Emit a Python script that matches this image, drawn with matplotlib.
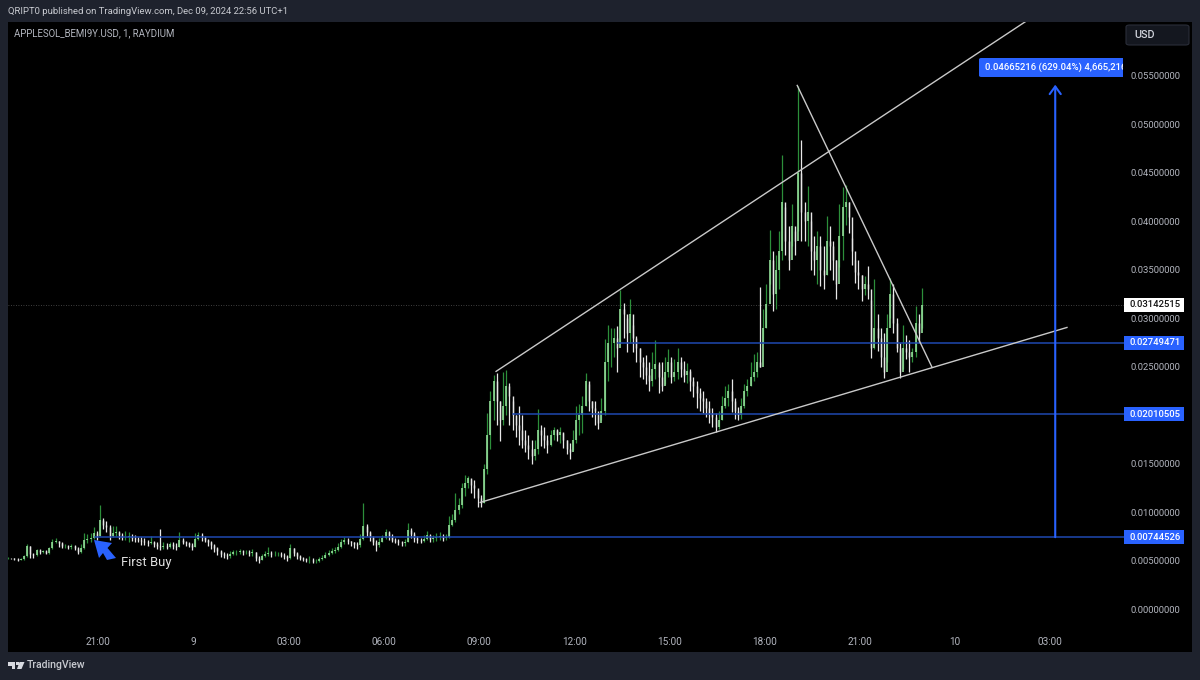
import numpy as np
import matplotlib
matplotlib.use('Agg')
import matplotlib.pyplot as plt
from matplotlib.patches import FancyBboxPatch, Polygon, Rectangle

# prices are in thousandths of a USD, one bar every 6 minutes
closes = [
    5.3, 5.25, 5.2, 5.1, 5.2, 5.5, 6.5, 5.7, 5.6, 6.1,
    5.9, 6.0, 5.8, 6.3, 7.0, 7.1, 6.8, 6.5, 6.5, 6.4,
    6.5, 6.3, 5.9, 6.3, 7.2, 7.3, 7.4, 7.9, 7.6, 9.2,
    8.7, 8.5, 7.6, 7.9, 8.0, 7.7, 7.5, 7.5, 7.6, 7.4,
    7.3, 7.2, 7.1, 6.9, 6.8, 7.0, 6.7, 6.5, 6.4, 6.5,
    6.4, 6.7, 6.5, 6.4, 7.2, 7.0, 6.8, 6.6, 6.4, 7.3,
    7.7, 7.5, 7.2, 7.0, 6.6, 6.3, 6.0, 5.7, 5.6, 5.5,
    5.7, 5.9, 5.9, 6.0, 5.9, 5.9, 5.8, 5.9, 5.3, 5.1,
    5.5, 5.7, 5.8, 5.7, 5.7, 5.7, 5.6, 5.5, 5.3, 6.3,
    5.8, 5.5, 5.3, 5.2, 5.1, 5.1, 5.0, 5.0, 5.2, 5.3,
    5.6, 5.8, 6.0, 6.1, 6.4, 6.9, 7.2, 7.1, 6.9, 6.7,
    6.6, 7.3, 8.6, 8.0, 7.5, 7.0, 6.6, 6.9, 7.4, 8.0,
    7.6, 7.2, 7.1, 6.9, 6.8, 7.0, 8.2, 7.8, 7.4, 7.2,
    7.1, 7.3, 7.7, 7.3, 7.4, 7.5, 7.6, 7.4, 7.5, 8.7,
    9.2, 10.2, 10.8, 12.5, 13.0, 13.6, 12.8, 12.5, 11.5, 11.0,
    14.5, 18.0, 21.5, 23.5, 21.5, 19.5, 21.0, 23.0, 22.0, 20.0,
    19.0, 18.5, 17.5, 17.0, 16.5, 15.8, 16.5, 18.5, 18.0, 17.5,
    17.0, 18.0, 18.5, 18.0, 18.3, 17.5, 16.5, 16.2, 17.5, 19.5,
    20.0, 21.0, 23.5, 21.5, 20.8, 20.5, 19.2, 20.5, 25.5, 27.5,
    27.5, 28.0, 27.0, 31.0, 30.5, 28.5, 30.5, 28.0, 27.0, 25.5,
    25.0, 24.2, 23.5, 24.8, 25.3, 24.0, 23.0, 24.5, 25.5, 24.0,
    24.5, 25.5, 24.8, 24.2, 24.6, 23.6, 23.0, 22.3, 21.8, 21.5,
    20.8, 20.2, 19.8, 18.8, 19.5, 21.0, 21.8, 22.5, 21.5, 20.5,
    20.0, 21.0, 22.5, 23.0, 24.0, 24.5, 25.5, 25.0, 29.0, 31.5,
    36.0, 32.5, 35.0, 37.0, 42.0, 38.0, 36.0, 39.5, 38.0, 45.0,
    41.0, 40.0, 41.0, 37.0, 36.0, 37.5, 35.0, 34.5, 38.0, 37.5,
    36.0, 33.5, 38.5, 41.5, 42.0, 40.5, 37.0, 34.8, 34.5, 33.0,
    33.5, 33.0, 27.0, 29.0, 28.0, 26.0, 24.5, 29.0, 32.5, 29.5,
    27.0, 24.5, 27.0, 26.5, 26.0, 26.5, 29.5, 28.5, 31.4,
]
highs = [
    5.4, 5.35, 5.3, 5.3, 5.3, 5.6, 6.7, 6.5, 5.8, 6.2,
    6.2, 6.1, 6.1, 6.4, 7.3, 7.4, 7.1, 6.9, 6.7, 6.6,
    6.7, 6.6, 6.4, 6.7, 7.9, 7.8, 7.9, 8.5, 8.1, 10.8,
    9.4, 9.1, 8.7, 8.6, 8.6, 8.1, 7.9, 8.1, 8.0, 7.8,
    7.7, 7.5, 7.5, 7.4, 7.2, 7.6, 7.1, 6.9, 8.3, 6.9,
    6.8, 7.0, 6.9, 6.8, 8.0, 7.4, 7.1, 6.9, 6.8, 7.9,
    8.0, 7.9, 7.6, 7.3, 7.1, 6.7, 6.4, 6.1, 5.9, 5.8,
    6.0, 6.1, 6.1, 6.2, 6.1, 6.1, 6.1, 6.2, 5.9, 5.5,
    5.7, 6.0, 6.4, 6.0, 6.0, 5.9, 5.9, 5.8, 5.6, 6.7,
    6.3, 5.9, 5.6, 5.4, 5.3, 5.5, 5.3, 5.2, 5.4, 5.6,
    5.9, 6.1, 6.3, 6.4, 6.8, 7.3, 7.5, 7.4, 7.1, 7.0,
    6.9, 7.8, 11.0, 8.8, 8.1, 7.6, 7.2, 7.4, 7.7, 8.3,
    8.1, 7.8, 7.4, 7.3, 7.1, 7.3, 8.9, 8.4, 8.0, 7.6,
    7.4, 7.7, 8.1, 7.8, 7.7, 7.9, 8.0, 7.8, 7.8, 9.6,
    9.8, 12.0, 11.5, 13.0, 13.9, 13.8, 13.4, 13.3, 12.3, 11.8,
    15.0, 20.3, 22.5, 24.2, 24.4, 21.5, 24.5, 24.7, 23.3, 21.5,
    20.0, 21.0, 20.0, 18.5, 18.0, 17.5, 17.5, 20.7, 19.0, 18.8,
    18.0, 18.5, 18.8, 18.6, 18.8, 18.2, 17.5, 17.2, 18.5, 21.0,
    21.2, 22.0, 24.4, 23.2, 21.5, 21.5, 20.0, 21.8, 27.9, 29.3,
    29.0, 29.0, 29.2, 32.9, 31.6, 30.0, 32.0, 29.3, 28.2, 27.0,
    26.0, 26.2, 25.5, 26.5, 27.8, 25.5, 25.5, 26.0, 26.8, 26.0,
    25.8, 27.0, 26.0, 25.6, 25.4, 24.8, 24.0, 23.5, 22.8, 22.5,
    21.8, 21.5, 20.8, 20.2, 20.5, 22.0, 23.0, 23.2, 23.8, 21.8,
    20.9, 21.8, 23.2, 23.8, 25.5, 26.3, 26.5, 33.2, 31.0, 33.5,
    39.1, 37.0, 36.5, 39.0, 46.8, 41.5, 39.5, 41.8, 39.0, 54.0,
    48.4, 42.0, 43.7, 40.0, 38.5, 39.0, 38.5, 37.5, 40.6, 39.5,
    38.0, 36.0, 41.8, 43.5, 43.8, 42.0, 38.3, 36.0, 36.0, 34.5,
    34.4, 35.4, 31.9, 34.1, 30.5, 29.0, 28.5, 30.5, 34.2, 33.5,
    30.0, 27.5, 29.3, 28.3, 27.8, 27.0, 31.3, 30.5, 33.1,
]
lows = [
    5.2, 5.2, 5.1, 5.0, 5.05, 5.1, 5.4, 5.3, 5.3, 5.5,
    5.7, 5.8, 5.7, 5.7, 6.2, 6.8, 6.4, 6.3, 6.3, 6.2,
    6.2, 6.1, 5.7, 5.8, 6.2, 6.8, 7.0, 7.3, 7.2, 7.6,
    8.3, 8.0, 7.2, 7.5, 7.6, 7.3, 7.2, 7.2, 7.0, 7.1,
    7.0, 6.9, 6.6, 6.6, 6.5, 6.7, 6.4, 6.2, 6.1, 6.2,
    6.2, 6.3, 6.2, 6.1, 6.4, 6.7, 6.5, 6.4, 6.1, 6.4,
    7.2, 7.1, 6.9, 6.5, 6.2, 5.9, 5.6, 5.4, 5.3, 5.2,
    5.3, 5.6, 5.6, 5.7, 5.6, 5.7, 5.5, 5.5, 5.0, 4.8,
    5.1, 5.4, 5.5, 5.4, 5.5, 5.5, 5.4, 5.2, 5.0, 5.2,
    5.5, 5.2, 5.1, 5.0, 4.9, 4.8, 4.8, 4.8, 4.9, 5.1,
    5.3, 5.5, 5.7, 5.8, 6.0, 6.3, 6.7, 6.7, 6.5, 6.3,
    6.2, 6.4, 7.2, 7.6, 7.1, 6.6, 6.0, 6.4, 6.9, 7.3,
    7.2, 6.9, 6.8, 6.6, 6.5, 6.5, 6.9, 7.4, 7.0, 6.8,
    6.8, 7.0, 7.2, 6.9, 7.0, 7.1, 7.2, 7.1, 7.2, 7.4,
    8.6, 9.0, 9.8, 10.5, 11.7, 12.5, 12.0, 11.5, 10.6, 10.6,
    11.0, 14.0, 16.5, 19.5, 19.0, 17.4, 19.0, 20.0, 19.0, 18.5,
    17.8, 17.0, 16.6, 16.2, 15.5, 15.0, 15.4, 16.0, 16.8, 16.6,
    16.1, 16.8, 17.5, 17.4, 17.2, 16.6, 16.0, 15.5, 16.4, 17.2,
    18.0, 18.2, 21.0, 20.5, 19.8, 19.0, 18.6, 19.5, 20.0, 23.5,
    25.0, 26.0, 24.5, 27.5, 28.0, 26.5, 27.5, 26.5, 25.5, 24.0,
    23.8, 23.2, 22.5, 23.0, 23.8, 22.3, 22.5, 23.2, 24.0, 23.3,
    23.5, 23.8, 24.0, 23.4, 23.3, 22.5, 21.9, 20.8, 20.5, 20.2,
    19.8, 19.2, 18.8, 18.3, 18.6, 19.5, 20.8, 21.0, 20.4, 19.6,
    19.5, 19.6, 20.8, 22.0, 23.0, 23.5, 24.0, 25.0, 27.5, 29.0,
    33.5, 30.8, 31.0, 33.0, 36.0, 36.5, 35.0, 37.5, 36.5, 39.0,
    38.0, 38.0, 37.5, 35.0, 34.5, 33.5, 33.3, 33.0, 34.5, 35.0,
    34.0, 32.0, 35.3, 36.0, 39.6, 38.8, 35.5, 33.7, 33.0, 31.8,
    32.4, 32.0, 25.9, 26.8, 26.6, 25.0, 23.9, 25.5, 30.0, 28.5,
    26.5, 23.9, 24.8, 25.8, 24.5, 25.5, 26.0, 27.5, 29.0,
]
first_bar_hour = 18.16
bar_hours = first_bar_hour + 0.1 * np.arange(len(closes))

# 0.02 is not on the scale, the 0.0201 tag takes its place
y_ticks = [0.0, 0.005, 0.01, 0.015, 0.025, 0.03, 0.035, 0.04, 0.045, 0.05, 0.055]
x_ticks = [21, 24, 27, 30, 33, 36, 39, 42, 45, 48, 51]
x_labels = ['21:00', '9', '03:00', '06:00', '09:00', '12:00', '15:00', '18:00', '21:00', '10', '03:00']

last_price = 0.03142515
levels = [0.00744526, 0.02010505, 0.02749471]
level_starts = [20.9, 34.08, 37.38]
level_end = 53.33
move = 0.04665216
arrow_hour = 51.16

# trend lines: hours, price in thousandths
upper_hours, upper_prices = [33.54, 50.27], [24.54, 60.7]
lower_hours, lower_prices = [33.04, 51.53], [11.03, 29.07]
falling_hours, falling_prices = [43.03, 47.28], [54.02, 24.95]

BG = '#1e222d'
BLUE = '#2962ff'
LEVEL_BLUE = '#1f48b0'
GREEN_WICK = '#2c8f3a'
GREEN_BODY = '#93de99'
WHITE = '#e8e8e8'
TXT = '#b2b5be'

plt.rcParams['font.family'] = ['Roboto', 'DejaVu Sans']

W, H = 1200, 680
fig = plt.figure(figsize=(W / 100, H / 100), dpi=100, facecolor=BG)


def fx(x):
    return x / W


def fy(y):
    return 1 - y / H


ax = fig.add_axes([fx(8), fy(652), fx(1192 - 8), fy(22) - fy(652)], facecolor='black')
ax.set_xlim(18.16, 55.47)
ax.set_ylim(-0.00439, 0.06056)
for s in ax.spines.values():
    s.set_visible(False)

# candles
prev = closes[0]
for h, hi, lo, c in zip(bar_hours, highs, lows, closes):
    up = c >= prev
    ax.plot([h, h], [lo / 1000, hi / 1000], color=GREEN_WICK if up else WHITE, lw=0.9, zorder=2,
            solid_capstyle='butt')
    ax.plot([h, h], [prev / 1000, c / 1000], color=GREEN_BODY if up else WHITE, lw=1.2 if up else 1.0,
            zorder=2, solid_capstyle='butt')
    prev = c

# last price line
ax.plot([18.16, 53.33], [last_price, last_price], color='#555555', lw=0.6, ls=(0, (1, 2)), zorder=1)

# levels
for level, start in zip(levels, level_starts):
    ax.plot([start, level_end], [level, level], color=LEVEL_BLUE, lw=1.1, zorder=3)

# trend lines
for xs, ys in [(upper_hours, upper_prices), (lower_hours, lower_prices), (falling_hours, falling_prices)]:
    ax.plot(xs, np.array(ys) / 1000, color='#c9c9c9', lw=1.0, zorder=4)

# measure arrow
ax.annotate('', xy=(arrow_hour, levels[0] + move), xytext=(arrow_hour, levels[0]),
            arrowprops=dict(arrowstyle='->,head_length=0.55,head_width=0.4', color=BLUE, lw=1.5,
                            shrinkA=0, shrinkB=0), zorder=5)

# first buy arrow
buy_arrow = [(94, 540), (112, 543), (107.5, 548), (116, 558), (107, 560), (103, 553), (99, 558)]
fig.add_artist(Polygon([(fx(a), fy(b)) for a, b in buy_arrow], closed=True, transform=fig.transFigure,
                       facecolor=BLUE, edgecolor='none', zorder=5))
ax.text(21.72, 0.0048, 'First Buy', color='#e0e0e0', fontsize=9.4, va='center', ha='left', zorder=5)

# axes labels sit inside the black panel
ax.set_xticks(x_ticks)
ax.set_xticklabels(x_labels)
ax.yaxis.tick_right()
ax.set_yticks(y_ticks)
ax.set_yticklabels(['%.8f' % t for t in y_ticks])
ax.tick_params(axis='x', length=0, pad=-10.5, labelsize=7.2, labelcolor=TXT)
ax.tick_params(axis='y', length=0, pad=-44.5, labelsize=6.8, labelcolor=TXT)

# price tags
tags = [(last_price, 'white', '#111111')] + [(v, BLUE, 'white') for v in levels]
for value, face, col in tags:
    yy = ax.transData.transform((0, value))[1] / H
    fig.add_artist(Rectangle((fx(1124), yy - 7 / H), 60 / W, 14 / H, transform=fig.transFigure,
                             facecolor=face, edgecolor='none', zorder=6))
    fig.text(fx(1130), yy, '%.8f' % value, color=col, fontsize=6.8, fontweight='medium', va='center',
             ha='left', zorder=7)

# measure label, cut off at the price scale
box = FancyBboxPatch((fx(979), fy(77)), 160 / W, 19 / H, boxstyle='round,pad=0,rounding_size=0.002',
                     transform=fig.transFigure, facecolor=BLUE, edgecolor='none', zorder=6)
clip = Rectangle((fx(970), fy(80)), 153 / W, 30 / H, transform=fig.transFigure)
fig.add_artist(box)
box.set_clip_path(clip)
t = fig.text(fx(985), fy(67), '%.8f (%.2f%%) 4,665,216' % (move, 629.04), color='white', fontsize=6.8,
             fontweight='medium', va='center', ha='left', zorder=7)
t.set_clip_path(clip)
t.set_clip_on(True)

# USD button
fig.add_artist(FancyBboxPatch((fx(1126), fy(45)), 63 / W, 20 / H, boxstyle='round,pad=0,rounding_size=0.003',
                              transform=fig.transFigure, facecolor='#14171f', edgecolor='#2a2e39', lw=0.8,
                              zorder=6))
fig.text(fx(1134), fy(35), 'USD', color='#d1d4dc', fontsize=7.8, fontweight='medium', va='center', ha='left',
         zorder=7)

# header
fig.text(fx(8), fy(12), 'QRIPT0 published on TradingView.com, Dec 09, 2024 22:56 UTC+1', color='#c8cad0',
         fontsize=6.8, va='center', ha='left')
fig.text(fx(14), fy(33), 'APPLESOL_BEMI9Y.USD, 1, RAYDIUM', color=TXT, fontsize=6.9, va='center', ha='left')

# footer logo
logo = [[(8, 662), (15, 662), (15, 669), (11.5, 669), (11.5, 665.5), (8, 665.5)],
        [(15.8, 662), (18.8, 662), (18.8, 665), (15.8, 665)],
        [(19.5, 662), (24.5, 662), (21.5, 669), (17, 669)]]
for pts in logo:
    fig.add_artist(Polygon([(fx(a), fy(b)) for a, b in pts], closed=True, transform=fig.transFigure,
                           facecolor='#d8dae0', edgecolor='none'))
fig.text(fx(27), fy(665.5), 'TradingView', color='#c8cad0', fontsize=7.6, fontweight='medium', va='center',
         ha='left')

fig.savefig('out.png', dpi=100, facecolor=BG)
